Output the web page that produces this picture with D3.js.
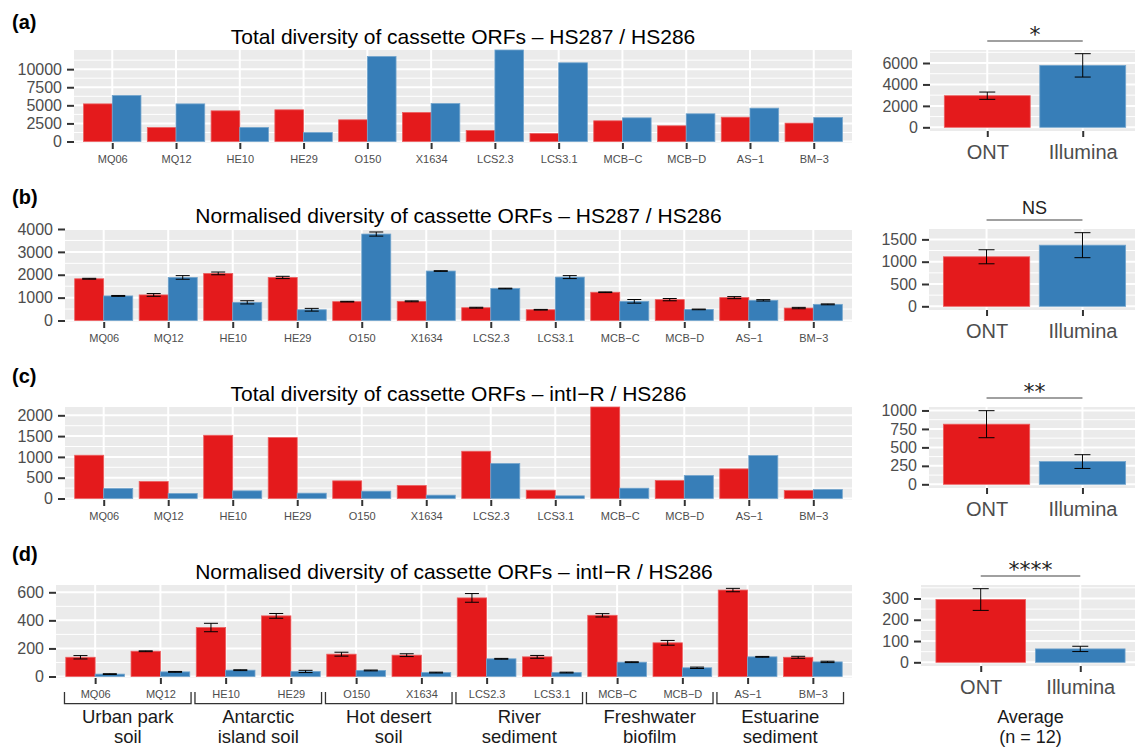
<!DOCTYPE html>
<html>
<head>
<meta charset="utf-8">
<script src="https://cdn.jsdelivr.net/npm/d3@7"></script>
<style>
  body { margin: 0; background: #fff; }
  svg { display: block; font-family: "Liberation Sans", Arial, Helvetica, sans-serif; }
</style>
</head>
<body>
<svg id="chart" width="1135" height="748"></svg>
<script>
// ---- data ----
const samples = ["MQ06", "MQ12", "HE10", "HE29", "O150", "X1634", "LCS2.3", "LCS3.1", "MCB\u2212C", "MCB\u2212D", "AS\u22121", "BM\u22123"];
const habitats = [["Urban park", "soil"], ["Antarctic", "island soil"], ["Hot desert", "soil"],
                  ["River", "sediment"], ["Freshwater", "biofilm"], ["Estuarine", "sediment"]];
const platforms = ["ONT", "Illumina"];
const colours = ["#E41A1C", "#377EB8"];

// (a) total diversity, HS287 / HS286
const totalHsOnt = [5200, 1930, 4240, 4380, 3000, 4010, 1520, 1110, 2860, 2170, 3360, 2540];
const totalHsIllumina = [6360, 5200, 1940, 1240, 11750, 5250, 12650, 10880, 3270, 3830, 4610, 3320];

// (b) normalised diversity, HS287 / HS286 (with standard error)
const normHsOnt = [1824, 1118, 2059, 1882, 824, 838, 559, 470, 1235, 912, 1000, 544];
const normHsOntSe = [20, 60, 60, 50, 15, 20, 20, 15, 15, 50, 45, 30];
const normHsIllumina = [1074, 1882, 794, 470, 3779, 2162, 1397, 1897, 838, 485, 882, 706];
const normHsIlluminaSe = [20, 80, 70, 60, 90, 15, 15, 65, 80, 15, 30, 20];

// (c) total diversity, intI-R / HS286
const totalIntOnt = [1040, 408, 1520, 1464, 424, 312, 1136, 200, 2200, 432, 712, 192];
const totalIntIllumina = [240, 120, 184, 128, 176, 80, 840, 64, 248, 552, 1032, 216];

// (d) normalised diversity, intI-R / HS286 (with standard error)
const normIntOnt = [137, 180, 349, 432, 159, 152, 560, 140, 436, 240, 616, 137];
const normIntOntSe = [12, 3, 30, 17, 14, 10, 31, 10, 12, 17, 12, 7];
const normIntIllumina = [17, 33, 45, 36, 43, 28, 126, 28, 102, 62, 140, 104];
const normIntIlluminaSe = [3, 3, 3, 8, 3, 3, 3, 3, 3, 5, 3, 5];

// averages over the 12 samples: mean and standard error, ONT then Illumina
const avgMeans = [[2950, 5780], [1110, 1370], [814, 308], [295, 63]];
const avgSe = [[340, 1090], [157, 280], [183, 93], [51, 12.5]];
const signifLabels = ["*", "NS", "**", "****"];

const panelTags = ["(a)", "(b)", "(c)", "(d)"];
const titles = [
  "Total diversity of cassette ORFs \u2013 HS287 / HS286",
  "Normalised diversity of cassette ORFs \u2013 HS287 / HS286",
  "Total diversity of cassette ORFs \u2013 intI\u2212R / HS286",
  "Normalised diversity of cassette ORFs \u2013 intI\u2212R / HS286"
];
const leftTicks = [[0, 2500, 5000, 7500, 10000], [0, 1000, 2000, 3000, 4000], [0, 500, 1000, 1500, 2000], [0, 200, 400, 600]];
const leftMax = [12650, 4000, 2200, 652];
const rightTicks = [[0, 2000, 4000, 6000], [0, 500, 1000, 1500], [0, 250, 500, 750, 1000], [0, 100, 200, 300]];

const rows = [
  { ont: totalHsOnt, ill: totalHsIllumina, ontSe: null, illSe: null },
  { ont: normHsOnt, ill: normHsIllumina, ontSe: normHsOntSe, illSe: normHsIlluminaSe },
  { ont: totalIntOnt, ill: totalIntIllumina, ontSe: null, illSe: null },
  { ont: normIntOnt, ill: normIntIllumina, ontSe: normIntOntSe, illSe: normIntIlluminaSe }
];

// ---- layout ----
const rowTop = [50, 229, 407, 585];
const tagY = [29, 204, 382.5, 561];
const leftX0 = [74, 65, 65, 56];
const rightX0 = [930, 929, 929, 921];
const LEFT_X1 = 852, RIGHT_X1 = 1140;
const LEFT_H = 93, RIGHT_H = 81;
const LABEL_Y = [723, 743];   // baselines of the two-line labels under row (d)

const svg = d3.select("#chart");
const FONT = '"Liberation Sans", Arial, Helvetica, sans-serif';

function drawFrame(g, x, y, ticks) {
  const [x0, x1] = x.range();
  const [yb, yt] = y.range();
  const dom = y.domain();
  g.append("rect").attr("x", x0).attr("y", yt).attr("width", x1 - x0).attr("height", yb - yt).attr("fill", "#EBEBEB");
  const half = (ticks[1] - ticks[0]) / 2;
  const minor = ticks.map(t => t + half).filter(v => v < dom[1]);
  g.selectAll(".minor").data(minor).join("line")
    .attr("x1", x0).attr("x2", x1).attr("y1", d => y(d)).attr("y2", d => y(d))
    .attr("stroke", "#fff").attr("stroke-width", 1);
  g.selectAll(".major").data(ticks).join("line")
    .attr("x1", x0).attr("x2", x1).attr("y1", d => y(d)).attr("y2", d => y(d))
    .attr("stroke", "#fff").attr("stroke-width", 2);
  g.selectAll(".vgrid").data(x.domain()).join("line")
    .attr("x1", d => x(d)).attr("x2", d => x(d)).attr("y1", yt).attr("y2", yb)
    .attr("stroke", "#fff").attr("stroke-width", 2);
}

function styleAxis(a, size) {
  a.attr("font-family", FONT).attr("font-size", size);
  a.select(".domain").remove();
  a.selectAll(".tick line").attr("stroke", "#333").attr("stroke-width", 2);
  a.selectAll(".tick text").attr("fill", "#4D4D4D");
}

function drawErrorBars(g, data, cx, y, cap) {
  const eb = g.append("g").attr("stroke", "#000").attr("stroke-width", 1);
  data.forEach(d => {
    const lo = y(d.v - d.se), hi = y(d.v + d.se), c = cx(d);
    eb.append("line").attr("x1", c).attr("x2", c).attr("y1", lo).attr("y2", hi);
    eb.append("line").attr("x1", c - cap).attr("x2", c + cap).attr("y1", lo).attr("y2", lo);
    eb.append("line").attr("x1", c - cap).attr("x2", c + cap).attr("y1", hi).attr("y2", hi);
  });
}

rows.forEach((row, i) => {
  const top = rowTop[i];

  // panel tag and title
  svg.append("text").attr("x", 12).attr("y", tagY[i]).attr("font-size", 20).attr("font-weight", "bold")
    .attr("fill", "#000").text(panelTags[i]);

  // ---- left: per-sample bars ----
  const x = d3.scalePoint().domain(samples).range([leftX0[i], LEFT_X1]).padding(0.6);
  const step = x.step();
  const dodge = d3.scaleBand().domain(platforms).range([-0.45 * step, 0.45 * step]);
  const y = d3.scaleLinear().domain([-leftMax[i] * 1.5 / (LEFT_H - 1.5), leftMax[i]]).range([top + LEFT_H, top]);
  const g = svg.append("g");
  drawFrame(g, x, y, leftTicks[i]);

  svg.append("text").attr("x", (leftX0[i] + LEFT_X1) / 2).attr("y", top - 6)
    .attr("text-anchor", "middle").attr("font-size", 21).attr("fill", "#000").text(titles[i]);

  const bars = [];
  samples.forEach((s, k) => {
    bars.push({ s, p: "ONT", v: row.ont[k], se: row.ontSe ? row.ontSe[k] : 0 });
    bars.push({ s, p: "Illumina", v: row.ill[k], se: row.illSe ? row.illSe[k] : 0 });
  });
  g.selectAll(".bar").data(bars).join("rect")
    .attr("x", d => x(d.s) + dodge(d.p)).attr("width", dodge.bandwidth())
    .attr("y", d => y(d.v)).attr("height", d => y(0) - y(d.v))
    .attr("fill", d => colours[platforms.indexOf(d.p)])
    .attr("stroke", d => d3.interpolateRgb(colours[platforms.indexOf(d.p)], "#fff")(0.3))
    .attr("stroke-width", 0.8);
  if (row.ontSe) drawErrorBars(g, bars, d => x(d.s) + dodge(d.p) + dodge.bandwidth() / 2, y, 7);

  const yl = g.append("g").attr("transform", `translate(${leftX0[i]},0)`)
    .call(d3.axisLeft(y).tickValues(leftTicks[i]).tickSize(7).tickPadding(5).tickFormat(d3.format("d")));
  styleAxis(yl, 16);
  const xl = g.append("g").attr("transform", `translate(0,${top + LEFT_H})`)
    .call(d3.axisBottom(x).tickSize(6).tickPadding(6));
  styleAxis(xl, 11);

  // habitat brackets under the last row
  if (i === 3) {
    const yb = top + LEFT_H;
    habitats.forEach((h, k) => {
      const xa = x(samples[2 * k]) - 0.47 * step, xb = x(samples[2 * k + 1]) + 0.47 * step;
      g.append("path").attr("d", `M${xa},${yb + 14}V${yb + 25.6}H${xb}V${yb + 14}`)
        .attr("fill", "none").attr("stroke", "#333").attr("stroke-width", 1.3);
      const t = g.append("text").attr("text-anchor", "middle").attr("font-size", 18.5).attr("fill", "#1A1A1A");
      h.forEach((line, j) => t.append("tspan").attr("x", (xa + xb) / 2).attr("y", LABEL_Y[j]).text(line));
    });
  }

  // ---- right: averages ----
  const xr = d3.scalePoint().domain(platforms).range([rightX0[i], RIGHT_X1]).padding(0.6);
  const stepR = xr.step();
  const avg = platforms.map((p, k) => ({ p, v: avgMeans[i][k], se: avgSe[i][k] }));
  const hi = d3.max(avg, d => d.v + d.se);
  const yr = d3.scaleLinear().domain([-0.05 * hi, 1.05 * hi]).range([top + RIGHT_H, top]);
  const gr = svg.append("g");
  drawFrame(gr, xr, yr, rightTicks[i]);
  gr.selectAll(".bar").data(avg).join("rect")
    .attr("x", d => xr(d.p) - 0.45 * stepR).attr("width", 0.9 * stepR)
    .attr("y", d => yr(d.v)).attr("height", d => yr(0) - yr(d.v))
    .attr("fill", (d, k) => colours[k])
    .attr("stroke", (d, k) => d3.interpolateRgb(colours[k], "#fff")(0.3))
    .attr("stroke-width", 0.8);
  drawErrorBars(gr, avg, d => xr(d.p), yr, 8);

  const yra = gr.append("g").attr("transform", `translate(${rightX0[i]},0)`)
    .call(d3.axisLeft(yr).tickValues(rightTicks[i]).tickSize(7).tickPadding(5).tickFormat(d3.format("d")));
  styleAxis(yra, 16);
  const xra = gr.append("g").attr("transform", `translate(0,${top + RIGHT_H})`)
    .call(d3.axisBottom(xr).tickSize(6).tickPadding(8));
  styleAxis(xra, 20);

  // significance bracket
  const by = top - 9;
  gr.append("line").attr("x1", xr("ONT")).attr("x2", xr("Illumina")).attr("y1", by).attr("y2", by)
    .attr("stroke", "#808080").attr("stroke-width", 1.3);
  const star = signifLabels[i] !== "NS";
  gr.append("text").attr("x", (xr("ONT") + xr("Illumina")) / 2).attr("y", star ? by + 1 : by - 6)
    .attr("text-anchor", "middle").attr("fill", "#222")
    .attr("font-family", star ? "DejaVu Sans" : FONT).attr("font-size", star ? 22 : 18)
    .text(signifLabels[i]);

  if (i === 3) {
    const t = gr.append("text").attr("text-anchor", "middle").attr("font-size", 18).attr("fill", "#1A1A1A");
    ["Average", "(n = 12)"].forEach((line, j) =>
      t.append("tspan").attr("x", (rightX0[i] + RIGHT_X1) / 2).attr("y", LABEL_Y[j]).text(line));
  }
});
</script>
</body>
</html>
